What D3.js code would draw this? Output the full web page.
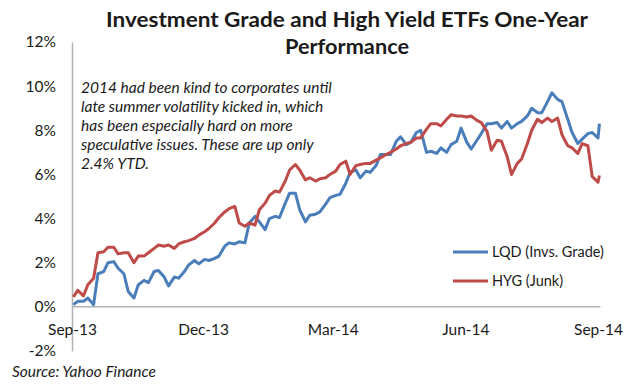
<!DOCTYPE html>
<html>
<head>
<meta charset="utf-8">
<script src="https://cdn.jsdelivr.net/npm/d3@7"></script>
<style>
  html, body { margin: 0; padding: 0; background: #fff; }
  svg { display: block; }
</style>
</head>
<body>
<svg id="chart" width="640" height="386"></svg>
<script>
const titleLines = ["Investment Grade and High Yield ETFs One-Year", "Performance"];
const annotationLines = [
  "2014 had been kind to corporates until",
  "late summer volatility kicked in, which",
  "has been especially hard on more",
  "speculative issues.  These are up only",
  "2.4% YTD."
];
const sourceText = "Source: Yahoo Finance";
const seriesNames = ["LQD (Invs. Grade)", "HYG (Junk)"];
const yTicks = [-2, 0, 2, 4, 6, 8, 10, 12];
const xTickDates = ["2013-09-01", "2013-12-01", "2014-03-01", "2014-06-01", "2014-09-01"];

const dates = [
"2013-09-02","2013-09-05","2013-09-09","2013-09-12","2013-09-16","2013-09-19","2013-09-23","2013-09-26","2013-09-30",
"2013-10-03","2013-10-07","2013-10-10","2013-10-14","2013-10-17","2013-10-21","2013-10-24","2013-10-28","2013-10-31",
"2013-11-04","2013-11-07","2013-11-11","2013-11-14","2013-11-18","2013-11-21","2013-11-25","2013-11-28",
"2013-12-02","2013-12-05","2013-12-09","2013-12-12","2013-12-16","2013-12-19","2013-12-23","2013-12-26","2013-12-30",
"2014-01-02","2014-01-06","2014-01-09","2014-01-13","2014-01-16","2014-01-20","2014-01-23","2014-01-27","2014-01-30",
"2014-02-03","2014-02-06","2014-02-10","2014-02-13","2014-02-17","2014-02-20","2014-02-24","2014-02-27",
"2014-03-03","2014-03-06","2014-03-10","2014-03-13","2014-03-17","2014-03-20","2014-03-24","2014-03-27","2014-03-31",
"2014-04-03","2014-04-07","2014-04-10","2014-04-14","2014-04-17","2014-04-21","2014-04-24","2014-04-28",
"2014-05-01","2014-05-05","2014-05-08","2014-05-12","2014-05-15","2014-05-19","2014-05-22","2014-05-26","2014-05-29",
"2014-06-02","2014-06-05","2014-06-09","2014-06-12","2014-06-16","2014-06-19","2014-06-23","2014-06-26","2014-06-30",
"2014-07-03","2014-07-07","2014-07-10","2014-07-14","2014-07-17","2014-07-21","2014-07-24","2014-07-28","2014-07-31",
"2014-08-04","2014-08-07","2014-08-11","2014-08-14","2014-08-18","2014-08-21","2014-08-25","2014-08-28","2014-09-01","2014-09-02"];

const lqd = [
0.1, 0.25, 0.25, 0.4, 0.1, 1.5, 1.6, 2.0, 2.05,
1.75, 1.5, 0.7, 0.4, 1.0, 1.2, 1.1, 1.6, 1.65,
1.35, 0.95, 1.35, 1.3, 1.6, 1.9, 2.1, 1.95,
2.15, 2.1, 2.2, 2.3, 2.75, 2.9, 2.85, 2.95, 2.9,
3.8, 4.1, 3.85, 3.5, 4.0, 4.1, 4.05, 4.7, 5.15,
5.15, 4.4, 3.85, 4.15, 4.2, 4.3, 4.65, 4.95,
5.05, 5.1, 5.6, 6.1, 6.2, 5.85, 6.15, 6.1, 6.4,
6.9, 6.9, 6.9, 7.5, 7.7, 7.35, 7.45, 7.9,
8.0, 7.0, 7.05, 6.95, 7.2, 7.0, 7.35, 7.5, 8.1,
7.45, 7.15, 7.55, 7.85, 8.3, 8.3, 8.35, 8.1, 8.4,
8.1, 8.3, 8.4, 8.65, 9.0, 8.8, 8.8, 9.3, 9.7,
9.4, 9.3, 8.5, 7.9, 7.4, 7.6, 7.85, 7.9,
7.65, 8.3];

const hyg = [
0.45, 0.75, 0.5, 1.0, 1.3, 2.45, 2.5, 2.7, 2.7,
2.4, 2.45, 2.45, 2.0, 2.3, 2.3, 2.45, 2.65, 2.8,
2.75, 2.8, 2.65, 2.85, 2.95, 3.0, 3.1, 3.25,
3.4, 3.55, 3.8, 4.05, 4.3, 4.45, 4.55, 3.8, 3.65,
3.8, 3.7, 4.4, 4.7, 5.05, 5.25, 5.2, 5.7, 6.2,
6.45, 6.2, 5.75, 5.85, 5.7, 5.8, 5.85, 6.0,
6.15, 6.45, 6.6, 6.0, 6.4, 6.45, 6.5, 6.5, 6.65,
6.75, 6.9, 7.0, 7.15, 7.3, 7.4, 7.45, 7.65,
7.65, 8.05, 8.3, 8.3, 8.2, 8.5, 8.7, 8.65, 8.65,
8.6, 8.65, 8.45, 8.35, 7.95, 7.1, 7.55, 7.5, 6.8,
6.0, 6.5, 6.7, 7.4, 8.0, 8.5, 8.35, 8.55, 8.4,
8.55, 7.8, 7.3, 7.2, 6.95, 7.4, 7.3, 5.9,
5.65, 5.95];

const colors = ["#4a7ebb", "#be4b48"];
const parse = d3.utcParse("%Y-%m-%d");
const svg = d3.select("#chart");
const font = "Lato, 'Open Sans', sans-serif";
const textColor = "#1a1a1a";

const x = d3.scaleUtc()
  .domain([parse("2013-09-01"), parse("2014-09-01")])
  .range([72, 598]);
const y = d3.scaleLinear().domain([-2, 12]).range([351, 42]);

// Title
svg.append("g").selectAll("text").data(titleLines).join("text")
  .attr("x", 347).attr("y", (d, i) => 27 + i * 27)
  .attr("text-anchor", "middle")
  .attr("font-family", font).attr("font-weight", "bold").attr("font-size", 21)
  .attr("fill", textColor)
  .attr("textLength", (d, i) => i === 0 ? 482 : 124)
  .attr("lengthAdjust", "spacingAndGlyphs")
  .text(d => d);

// Y axis
const yAxis = svg.append("g").attr("transform", "translate(72,0)")
  .call(d3.axisLeft(y).tickValues(yTicks).tickSize(0).tickSizeOuter(0).tickPadding(16)
    .tickFormat(d => d + "%"));
yAxis.select(".domain").attr("stroke", "#b3b3b3").attr("stroke-width", 1.5);
yAxis.selectAll("text").attr("font-family", font).attr("font-size", 15.5).attr("fill", textColor);

// X axis
const xAxis = svg.append("g").attr("transform", `translate(0,${y(0)})`)
  .call(d3.axisBottom(x).tickValues(xTickDates.map(parse)).tickSize(0).tickSizeOuter(0).tickPadding(17)
    .tickFormat(d3.utcFormat("%b-%y")));
xAxis.select(".domain").remove();
xAxis.append("line").attr("x1", x.range()[0]).attr("x2", x(parse(dates[dates.length - 1])) + 1)
  .attr("stroke", "#b3b3b3").attr("stroke-width", 1.5);
xAxis.selectAll("text").attr("font-family", font).attr("font-size", 15.5).attr("fill", textColor);

// Lines
const series = [lqd, hyg];
const line = d3.line().x(d => x(d.date)).y(d => y(d.v));
series.forEach((vals, si) => {
  const pts = dates.map((d, i) => ({ date: parse(d), v: vals[i] }));
  svg.append("path").datum(pts)
    .attr("fill", "none").attr("stroke", colors[si]).attr("stroke-width", 3)
    .attr("stroke-linejoin", "round")
    .attr("d", line);
});

// Annotation
svg.append("g").selectAll("text").data(annotationLines).join("text")
  .attr("x", 81).attr("y", (d, i) => 93 + i * 19)
  .attr("font-family", font).attr("font-style", "italic").attr("font-size", 15.5)
  .attr("fill", textColor)
  .text(d => d);

// Legend
const legend = svg.append("g");
seriesNames.forEach((name, i) => {
  const ly = 252 + i * 29;
  legend.append("line").attr("x1", 453).attr("x2", 488).attr("y1", ly).attr("y2", ly)
    .attr("stroke", colors[i]).attr("stroke-width", 3);
  legend.append("text").attr("x", 492).attr("y", ly + 5)
    .attr("font-family", font).attr("font-size", 14.5).attr("fill", textColor)
    .text(name);
});

// Source
svg.append("text").attr("x", 12).attr("y", 377)
  .attr("font-family", font).attr("font-style", "italic").attr("font-size", 15.5)
  .attr("fill", textColor)
  .text(sourceText);
</script>
</body>
</html>
